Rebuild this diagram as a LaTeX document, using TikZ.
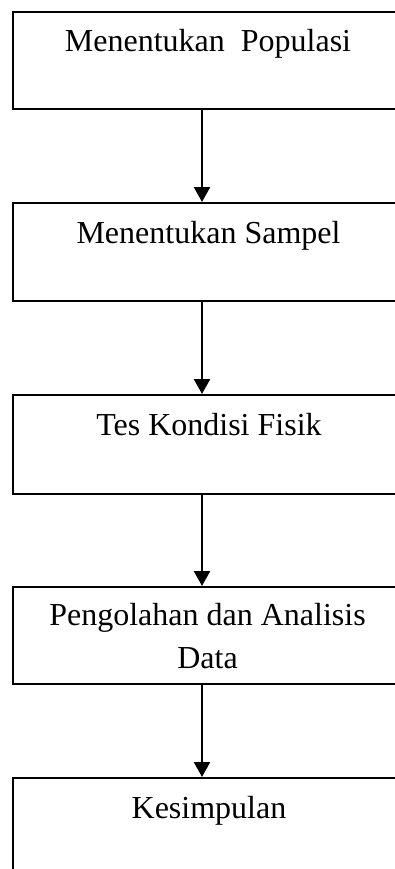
\documentclass[tikz,border=0pt]{standalone}
\usepackage{fontspec}
\setmainfont{Liberation Serif}
\usetikzlibrary{arrows.meta}
\begin{document}
\begin{tikzpicture}[x=1pt,y=-1pt,
  box/.style={draw=black,line width=2.3pt,rectangle,inner sep=0pt,anchor=north west,minimum width=392pt},
  lbl/.style={font=\fontsize{32}{43}\selectfont,anchor=base,inner sep=0pt,align=center},
  flow/.style={line width=2.3pt,-{Triangle[width=16pt,length=15pt]}}]
\useasboundingbox (0,0) rectangle (395,869);
\clip (0,0) rectangle (395,869);
\fill[white] (0,0) rectangle (395,869);
\node[box,minimum height=97pt] (b1) at (12,11) {};
\node[box,minimum height=98pt] (b2) at (12,202) {};
\node[box,minimum height=99pt] (b3) at (12,394) {};
\node[box,minimum height=97pt] (b4) at (12,586) {};
\node[box,minimum height=140pt] (b5) at (12,777) {};
\node[lbl] (t1) at (208,52) {Menentukan\ \ Populasi};
\node[lbl] (t2) at (208.5,243) {Menentukan Sampel};
\node[lbl] (t3) at (209,435) {Tes Kondisi Fisik};
\node[lbl] (t4) at (207.5,668) {Pengolahan dan Analisis\\Data};
\node[lbl] (t5) at (209,818) {Kesimpulan};
\coordinate (ax) at (202,0);
\draw[flow] (b1.south -| ax) -- (b2.north -| ax);
\draw[flow] (b2.south -| ax) -- (b3.north -| ax);
\draw[flow] (b3.south -| ax) -- (b4.north -| ax);
\draw[flow] (b4.south -| ax) -- (b5.north -| ax);
\end{tikzpicture}
\end{document}
